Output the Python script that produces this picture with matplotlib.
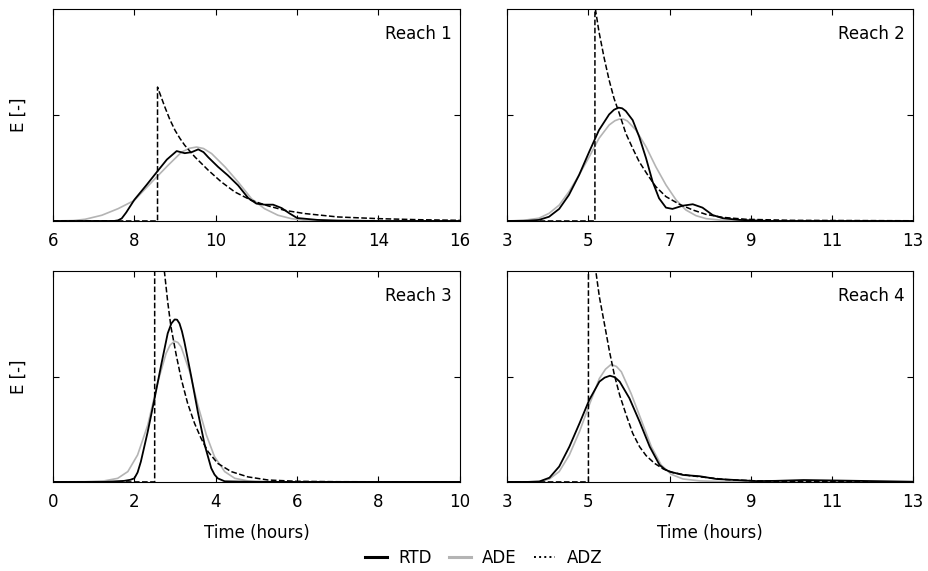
import matplotlib.pyplot as plt
from matplotlib.lines import Line2D

# values, y as fraction of axis height (tick at 0.5)
reaches = ["Reach 1", "Reach 2", "Reach 3", "Reach 4"]
xlims = [(6, 16), (3, 13), (0, 10), (3, 13)]
xticks = [[6, 8, 10, 12, 14, 16], [3, 5, 7, 9, 11, 13], [0, 2, 4, 6, 8, 10], [3, 5, 7, 9, 11, 13]]

# Reach 1
rtd1_t = [6.0, 7.5, 7.6, 7.69, 7.8, 8.0, 8.3, 8.59, 8.8, 9.04, 9.24, 9.41, 9.57, 9.7, 9.82, 10.06,
          10.3, 10.55, 10.8, 11.0, 11.2, 11.41, 11.62, 11.82, 12.0, 12.5, 13.0, 14.0, 16.0]
rtd1_e = [0.0, 0.0, 0.003, 0.012, 0.04, 0.10, 0.17, 0.24, 0.29, 0.33, 0.32, 0.325, 0.338, 0.325, 0.30, 0.255,
          0.215, 0.168, 0.108, 0.082, 0.077, 0.077, 0.061, 0.035, 0.014, 0.005, 0.002, 0.0, 0.0]
ade1_t = [6.0, 6.5, 6.79, 7.2, 7.6, 8.0, 8.43, 8.83, 9.16, 9.35, 9.53, 9.7, 9.9, 10.23, 10.55, 10.88,
          11.2, 11.53, 11.86, 12.19, 13.0, 16.0]
ade1_e = [0.0, 0.002, 0.008, 0.027, 0.058, 0.097, 0.184, 0.263, 0.325, 0.343, 0.349, 0.342, 0.318, 0.255, 0.184,
          0.105, 0.058, 0.027, 0.011, 0.003, 0.0, 0.0]
adz1_t = [6.0, 8.57, 8.57, 8.65, 8.75, 8.87, 9.0, 9.12, 9.24, 9.49, 9.82, 10.14, 10.47, 10.88, 11.29,
          11.7, 12.19, 13.0, 14.0, 15.0, 16.0]
adz1_e = [0.0, 0.0, 0.632, 0.59, 0.538, 0.48, 0.428, 0.39, 0.357, 0.302, 0.239, 0.184, 0.137, 0.097, 0.071,
          0.050, 0.035, 0.019, 0.011, 0.006, 0.003]

# Reach 2
rtd2_t = [3.0, 3.5, 3.78, 4.03, 4.28, 4.52, 4.77, 5.02, 5.26, 5.51, 5.63, 5.74, 5.83, 5.92, 6.09,
          6.25, 6.42, 6.58, 6.74, 6.91, 7.07, 7.32, 7.57, 7.81, 8.06, 8.31, 8.72, 9.5, 13.0]
rtd2_e = [0.0, 0.001, 0.005, 0.02, 0.057, 0.123, 0.217, 0.327, 0.429, 0.503, 0.525, 0.535, 0.532, 0.519, 0.476,
          0.398, 0.296, 0.186, 0.107, 0.063, 0.057, 0.072, 0.079, 0.063, 0.028, 0.013, 0.005, 0.0, 0.0]
ade2_t = [3.0, 3.4, 3.78, 4.03, 4.28, 4.52, 4.77, 5.02, 5.26, 5.51, 5.65, 5.76, 5.86, 5.96, 6.17,
          6.42, 6.66, 6.91, 7.16, 7.4, 7.65, 7.9, 8.31, 9.0, 13.0]
ade2_e = [0.0, 0.003, 0.013, 0.036, 0.075, 0.138, 0.217, 0.303, 0.39, 0.453, 0.473, 0.481, 0.481, 0.472, 0.429,
          0.35, 0.256, 0.17, 0.099, 0.052, 0.025, 0.011, 0.003, 0.0, 0.0]
adz2_t = [3.0, 5.16, 5.16, 5.18, 5.26, 5.39, 5.51, 5.63, 5.76, 5.92, 6.09, 6.25, 6.46, 6.66, 6.91,
          7.24, 7.57, 7.9, 8.31, 8.88, 10.0, 13.0]
adz2_e = [0.0, 0.0, 1.02, 0.99, 0.893, 0.767, 0.665, 0.579, 0.508, 0.414, 0.343, 0.28, 0.217, 0.162, 0.115,
          0.079, 0.052, 0.031, 0.017, 0.008, 0.003, 0.001]

# Reach 3
rtd3_t = [0.0, 1.26, 1.75, 1.9, 2.0, 2.08, 2.16, 2.33, 2.49, 2.66, 2.82, 2.91, 2.99, 3.05, 3.11,
          3.17, 3.23, 3.4, 3.56, 3.73, 3.89, 3.97, 4.05, 4.22, 5.0, 10.0]
rtd3_e = [0.0, 0.0, 0.005, 0.01, 0.017, 0.045, 0.096, 0.239, 0.389, 0.555, 0.705, 0.752, 0.771, 0.77, 0.752,
          0.715, 0.665, 0.499, 0.333, 0.175, 0.065, 0.035, 0.017, 0.003, 0.0, 0.0]
ade3_t = [0.0, 0.8, 1.26, 1.59, 1.84, 2.08, 2.33, 2.58, 2.78, 2.88, 2.99, 3.07, 3.15, 3.36, 3.56,
          3.77, 3.97, 4.22, 4.47, 4.79, 5.5, 10.0]
ade3_e = [0.0, 0.001, 0.005, 0.017, 0.049, 0.128, 0.27, 0.476, 0.61, 0.65, 0.668, 0.662, 0.641, 0.523, 0.365,
          0.223, 0.12, 0.049, 0.017, 0.005, 0.0, 0.0]
adz3_t = [0.0, 2.5, 2.5, 2.6, 2.74, 2.82, 2.9, 3.03, 3.15, 3.31, 3.48, 3.64, 3.81, 4.05, 4.38,
          4.79, 5.29, 6.0, 7.0, 10.0]
adz3_e = [0.0, 0.0, 1.45, 1.23, 0.997, 0.855, 0.736, 0.602, 0.491, 0.373, 0.278, 0.207, 0.144, 0.088, 0.049,
          0.024, 0.009, 0.003, 0.001, 0.0]

# Reach 4
rtd4_t = [3.0, 3.5, 3.79, 4.04, 4.28, 4.53, 4.78, 5.02, 5.27, 5.4, 5.53, 5.65, 5.77, 6.01, 6.26,
          6.51, 6.75, 6.88, 7.0, 7.33, 7.74, 8.15, 8.73, 9.14, 9.6, 10.3, 11.0, 12.0, 13.0]
rtd4_e = [0.0, 0.0, 0.002, 0.02, 0.073, 0.167, 0.278, 0.389, 0.476, 0.495, 0.504, 0.497, 0.476, 0.397, 0.286,
          0.167, 0.081, 0.06, 0.049, 0.033, 0.027, 0.014, 0.008, 0.004, 0.005, 0.009, 0.007, 0.004, 0.001]
ade4_t = [3.0, 3.5, 3.79, 4.04, 4.28, 4.53, 4.78, 5.02, 5.27, 5.42, 5.56, 5.69, 5.81, 6.05, 6.3,
          6.55, 6.79, 7.04, 7.33, 7.74, 8.5, 13.0]
ade4_e = [0.0, 0.0, 0.002, 0.014, 0.049, 0.128, 0.239, 0.365, 0.491, 0.535, 0.558, 0.548, 0.523, 0.42, 0.294,
          0.167, 0.081, 0.036, 0.014, 0.005, 0.0, 0.0]
adz4_t = [3.0, 5.0, 5.0, 5.1, 5.19, 5.27, 5.4, 5.52, 5.64, 5.77, 5.93, 6.09, 6.26, 6.42, 6.63,
          6.84, 7.08, 7.49, 7.9, 8.4, 9.14, 10.0, 13.0]
adz4_e = [0.0, 0.0, 1.32, 1.13, 0.989, 0.878, 0.744, 0.618, 0.507, 0.412, 0.318, 0.231, 0.167, 0.125, 0.088,
          0.062, 0.044, 0.03, 0.021, 0.011, 0.005, 0.002, 0.0]

rtd = [(rtd1_t, rtd1_e), (rtd2_t, rtd2_e), (rtd3_t, rtd3_e), (rtd4_t, rtd4_e)]
ade = [(ade1_t, ade1_e), (ade2_t, ade2_e), (ade3_t, ade3_e), (ade4_t, ade4_e)]
adz = [(adz1_t, adz1_e), (adz2_t, adz2_e), (adz3_t, adz3_e), (adz4_t, adz4_e)]

grey = '#b4b4b4'
plt.rcParams['font.family'] = 'DejaVu Sans'
plt.rcParams['font.size'] = 12

fig = plt.figure(figsize=(9.29, 5.71), dpi=100)
# [left, bottom, width, height]
boxes = [[0.057, 0.613, 0.438, 0.371], [0.546, 0.613, 0.437, 0.371],
         [0.057, 0.156, 0.438, 0.369], [0.546, 0.156, 0.437, 0.369]]

for i in range(4):
    ax = fig.add_axes(boxes[i])
    ax.plot(ade[i][0], ade[i][1], color=grey, lw=1.2)
    ax.plot(adz[i][0], adz[i][1], color='black', lw=1.1, ls='--')
    ax.plot(rtd[i][0], rtd[i][1], color='black', lw=1.3)
    ax.set_xlim(xlims[i])
    ax.set_ylim(0, 1)
    ax.set_xticks(xticks[i])
    ax.set_yticks([0.5])
    ax.set_yticklabels([])
    ax.tick_params(direction='in', top=True, right=True, length=4, labelsize=12, pad=8)
    ax.text(0.98, 0.925, reaches[i], transform=ax.transAxes, ha='right', va='top', fontsize=12)
    if i in (0, 2):
        ax.set_ylabel('E [-]', labelpad=10)
    if i in (2, 3):
        ax.set_xlabel('Time (hours)', labelpad=9)

handles = [Line2D([], [], color='black', lw=2.2),
           Line2D([], [], color=grey, lw=2.2),
           Line2D([], [], color='black', lw=1.4, ls=':')]
fig.legend(handles, ['RTD', 'ADE', 'ADZ'], loc='center', bbox_to_anchor=(0.521, 0.023),
           ncol=3, frameon=False, handlelength=1.3, columnspacing=1.0, handletextpad=0.7, fontsize=12)

fig.savefig('out.png', dpi=100)
